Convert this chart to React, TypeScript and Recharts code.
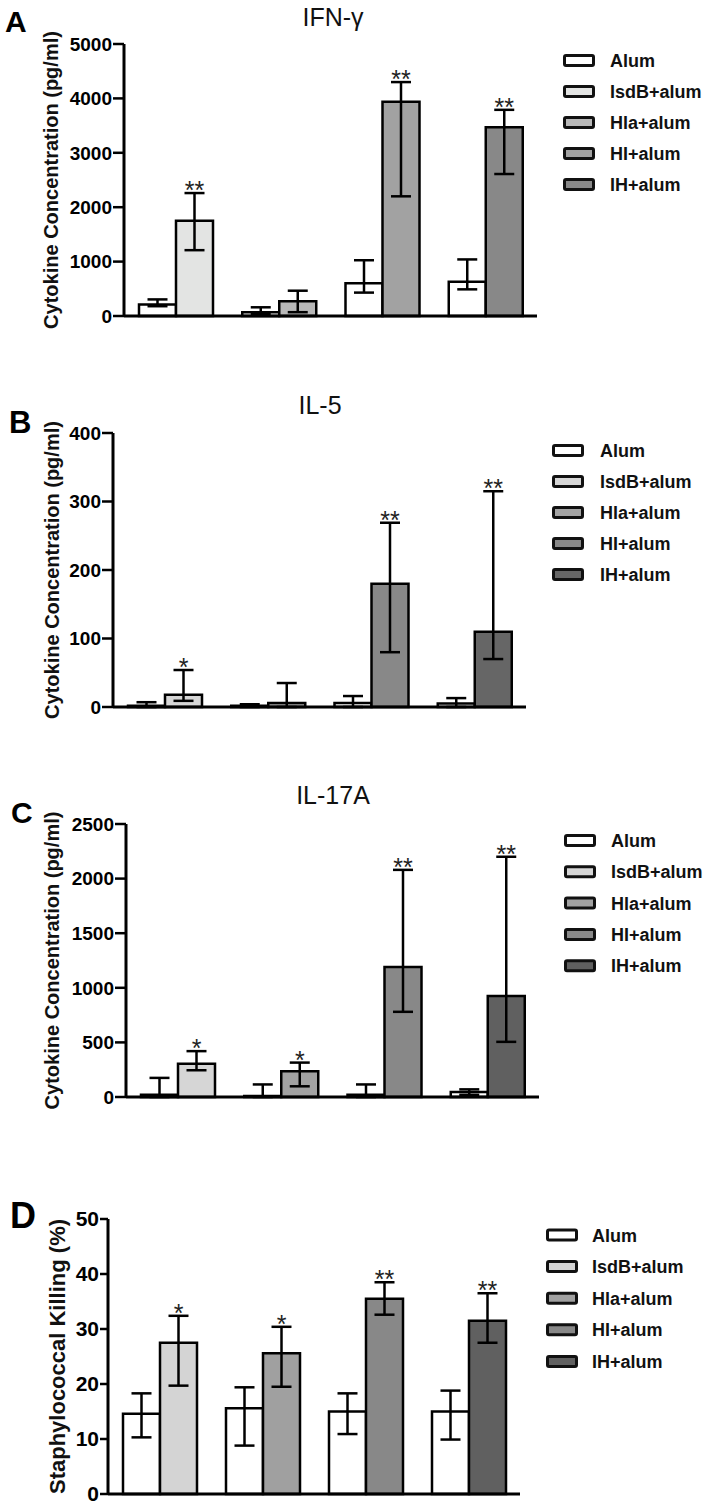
import React from "react";
import { BarChart, Bar, XAxis, YAxis, ErrorBar, Cell, LabelList } from "recharts";

const FONT = "'Liberation Sans', Arial, Helvetica, sans-serif";

const GROUPS = ["IsdB", "Hla", "HI", "IH"];
const LEGEND_NAMES = ["Alum", "IsdB+alum", "Hla+alum", "HI+alum", "IH+alum"];

// A: IFN-γ (pg/ml)
const IFNG_ALUM = [210, 70, 600, 630];
const IFNG_ALUM_LO = [180, 35, 430, 490];
const IFNG_ALUM_HI = [305, 160, 1025, 1040];
const IFNG_TREAT = [1750, 270, 3940, 3470];
const IFNG_TREAT_LO = [1210, 70, 2200, 2610];
const IFNG_TREAT_HI = [2260, 465, 4300, 3790];
const IFNG_STARS = ["**", "", "**", "**"];
const IFNG_TICKS = [0, 1000, 2000, 3000, 4000, 5000];

// B: IL-5 (pg/ml)
const IL5_ALUM = [2, 2, 6, 5];
const IL5_ALUM_LO = [0, 0, 0, 0];
const IL5_ALUM_HI = [7, 4, 16, 13];
const IL5_TREAT = [18, 6, 180, 110];
const IL5_TREAT_LO = [9, 0, 80, 70];
const IL5_TREAT_HI = [54, 35, 269, 315];
const IL5_STARS = ["*", "", "**", "**"];
const IL5_TICKS = [0, 100, 200, 300, 400];

// C: IL-17A (pg/ml)
const IL17_ALUM = [20, 10, 20, 45];
const IL17_ALUM_LO = [0, 0, 0, 20];
const IL17_ALUM_HI = [175, 115, 115, 70];
const IL17_TREAT = [305, 235, 1190, 925];
const IL17_TREAT_LO = [245, 98, 780, 505];
const IL17_TREAT_HI = [420, 315, 2080, 2200];
const IL17_STARS = ["*", "*", "**", "**"];
const IL17_TICKS = [0, 500, 1000, 1500, 2000, 2500];

// D: staphylococcal killing (%)
const KILL_ALUM = [14.6, 15.6, 15.0, 15.0];
const KILL_ALUM_LO = [10.3, 8.8, 10.9, 9.9];
const KILL_ALUM_HI = [18.3, 19.4, 18.3, 18.8];
const KILL_TREAT = [27.5, 25.6, 35.5, 31.5];
const KILL_TREAT_LO = [19.7, 19.5, 32.6, 27.5];
const KILL_TREAT_HI = [32.4, 30.4, 38.5, 36.5];
const KILL_STARS = ["*", "*", "**", "**"];
const KILL_TICKS = [0, 10, 20, 30, 40, 50];

function buildRows(alum, alumLo, alumHi, treat, treatLo, treatHi) {
  return GROUPS.map((g, i) => ({
    group: g,
    alum: alum[i],
    treat: treat[i],
    alumErr: [alum[i] - alumLo[i], alumHi[i] - alum[i]],
    treatErr: [treat[i] - treatLo[i], treatHi[i] - treat[i]],
  }));
}

const PANELS = [
  {
    letter: "A", letterX: 5, letterY: 32, letterSize: 30,
    title: "IFN-γ", titleX: 333, titleY: 26,
    yLabel: "Cytokine Concentration (pg/ml)", labelX: 51, labelSize: 20,
    plotTop: 44, plotBottom: 316, axisX: 124, plotRight: 537,
    tickSize: 19, tickLen: 11,
    legendX: 563, legendY: 60.5, legendStep: 31, legendTextX: 610,
    colors: ["#ffffff", "#e3e4e3", "#b8b8b8", "#a2a2a2", "#888888"],
    rows: buildRows(IFNG_ALUM, IFNG_ALUM_LO, IFNG_ALUM_HI, IFNG_TREAT, IFNG_TREAT_LO, IFNG_TREAT_HI),
    treat: IFNG_TREAT, hi: IFNG_TREAT_HI, stars: IFNG_STARS, ticks: IFNG_TICKS,
  },
  {
    letter: "B", letterX: 9, letterY: 433, letterSize: 31,
    title: "IL-5", titleX: 320, titleY: 414,
    yLabel: "Cytokine Concentration (pg/ml)", labelX: 52, labelSize: 20,
    plotTop: 433, plotBottom: 707, axisX: 113, plotRight: 526,
    tickSize: 19, tickLen: 11,
    legendX: 552, legendY: 450.5, legendStep: 31, legendTextX: 600,
    colors: ["#ffffff", "#d6d6d6", "#a4a4a4", "#888888", "#666666"],
    rows: buildRows(IL5_ALUM, IL5_ALUM_LO, IL5_ALUM_HI, IL5_TREAT, IL5_TREAT_LO, IL5_TREAT_HI),
    treat: IL5_TREAT, hi: IL5_TREAT_HI, stars: IL5_STARS, ticks: IL5_TICKS,
  },
  {
    letter: "C", letterX: 11, letterY: 823, letterSize: 30,
    title: "IL-17A", titleX: 333, titleY: 804,
    yLabel: "Cytokine Concentration (pg/ml)", labelX: 52, labelSize: 20,
    plotTop: 824, plotBottom: 1097, axisX: 126, plotRight: 539,
    tickSize: 19, tickLen: 11,
    legendX: 564, legendY: 840.5, legendStep: 31.3, legendTextX: 611,
    colors: ["#ffffff", "#d6d6d6", "#a2a2a2", "#888888", "#606060"],
    rows: buildRows(IL17_ALUM, IL17_ALUM_LO, IL17_ALUM_HI, IL17_TREAT, IL17_TREAT_LO, IL17_TREAT_HI),
    treat: IL17_TREAT, hi: IL17_TREAT_HI, stars: IL17_STARS, ticks: IL17_TICKS,
  },
  {
    letter: "D", letterX: 10, letterY: 1228, letterSize: 36,
    title: "", titleX: 0, titleY: 0,
    yLabel: "Staphylococcal Killing (%)", labelX: 57, labelSize: 22,
    plotTop: 1219, plotBottom: 1494, axisX: 108, plotRight: 520,
    tickSize: 21, tickLen: 8,
    legendX: 546, legendY: 1235, legendStep: 31.6, legendTextX: 592,
    colors: ["#ffffff", "#d4d4d4", "#a0a0a0", "#888888", "#606060"],
    rows: buildRows(KILL_ALUM, KILL_ALUM_LO, KILL_ALUM_HI, KILL_TREAT, KILL_TREAT_LO, KILL_TREAT_HI),
    treat: KILL_TREAT, hi: KILL_TREAT_HI, stars: KILL_STARS, ticks: KILL_TICKS,
  },
];

const TOP_PAD = 40;
const BOTTOM_PAD = 12;

function Panel({ p }) {
  const plotH = p.plotBottom - p.plotTop;
  const width = p.plotRight + 10;
  const height = TOP_PAD + plotH + 1 + BOTTOM_PAD;
  const maxTick = p.ticks[p.ticks.length - 1];

  // star sits just above the upper error cap of the treatment bar
  const starLabel = (props: any) => {
    const i = props.index;
    if (!p.stars[i]) return null;
    const vb = props.viewBox || props;
    const base = vb.y + vb.height;
    const capY = base - (p.hi[i] / p.treat[i]) * vb.height;
    return (
      <text x={vb.x + vb.width / 2} y={capY + 6} textAnchor="middle"
        fontSize={25} fill="#222" fontFamily={FONT}>
        {p.stars[i]}
      </text>
    );
  };

  return (
    <div style={{ position: "absolute", left: 0, top: p.plotTop - TOP_PAD }}>
      <BarChart width={width} height={height} data={p.rows}
        margin={{ top: TOP_PAD, right: 10, bottom: BOTTOM_PAD, left: 0 }}
        barGap={0} barSize={37}>
        <XAxis dataKey="group" tick={false} tickLine={false} height={1}
          axisLine={{ stroke: "#000", strokeWidth: 3 }} />
        <YAxis width={p.axisX} domain={[0, maxTick]} ticks={p.ticks}
          interval={0} tickSize={p.tickLen} tickMargin={1}
          axisLine={{ stroke: "#000", strokeWidth: 3 }}
          tickLine={{ stroke: "#000", strokeWidth: 2.5 }}
          tick={{ fill: "#000", fontSize: p.tickSize, fontWeight: "bold", fontFamily: FONT }} />
        <Bar dataKey="alum" fill="#fff" stroke="#000" strokeWidth={2.5} isAnimationActive={false}>
          <ErrorBar dataKey="alumErr" width={10} stroke="#000" strokeWidth={2.5} direction="y" isAnimationActive={false} />
        </Bar>
        <Bar dataKey="treat" stroke="#000" strokeWidth={2.5} isAnimationActive={false}>
          {p.rows.map((r, i) => (
            <Cell key={r.group} fill={p.colors[i + 1]} />
          ))}
          <ErrorBar dataKey="treatErr" width={10} stroke="#000" strokeWidth={2.5} direction="y" isAnimationActive={false} />
          <LabelList dataKey="treat" content={starLabel} />
        </Bar>
      </BarChart>
    </div>
  );
}

function Overlay() {
  return (
    <svg width={715} height={1507} style={{ position: "absolute", left: 0, top: 0, pointerEvents: "none" }}>
      {PANELS.map((p) => {
        const cy = (p.plotTop + p.plotBottom) / 2;
        return (
          <g key={p.letter} fontFamily={FONT}>
            <text x={p.letterX} y={p.letterY} fontSize={p.letterSize} fontWeight="bold" fill="#000">{p.letter}</text>
            {p.title && (
              <text x={p.titleX} y={p.titleY} fontSize={25} textAnchor="middle" fill="#111">{p.title}</text>
            )}
            <text x={p.labelX} y={cy} transform={`rotate(-90 ${p.labelX} ${cy})`}
              textAnchor="middle" dominantBaseline="central"
              fontSize={p.labelSize} fontWeight="bold" fill="#111">
              {p.yLabel}
            </text>
            {LEGEND_NAMES.map((name, i) => {
              const ly = p.legendY + i * p.legendStep;
              return (
                <g key={name}>
                  <rect x={p.legendX + 1.5} y={ly - 5} width={29} height={10} rx={1.5}
                    fill={p.colors[i]} stroke="#111" strokeWidth={3} />
                  <text x={p.legendTextX} y={ly + 6.5} fontSize={18} fontWeight="bold" fill="#111">{name}</text>
                </g>
              );
            })}
          </g>
        );
      })}
    </svg>
  );
}

export default function App() {
  return (
    <div style={{ position: "absolute", left: 0, top: 0, width: 715, height: 1507, background: "#fff", overflow: "hidden" }}>
      {PANELS.map((p) => (
        <Panel key={p.letter} p={p} />
      ))}
      <Overlay />
    </div>
  );
}
